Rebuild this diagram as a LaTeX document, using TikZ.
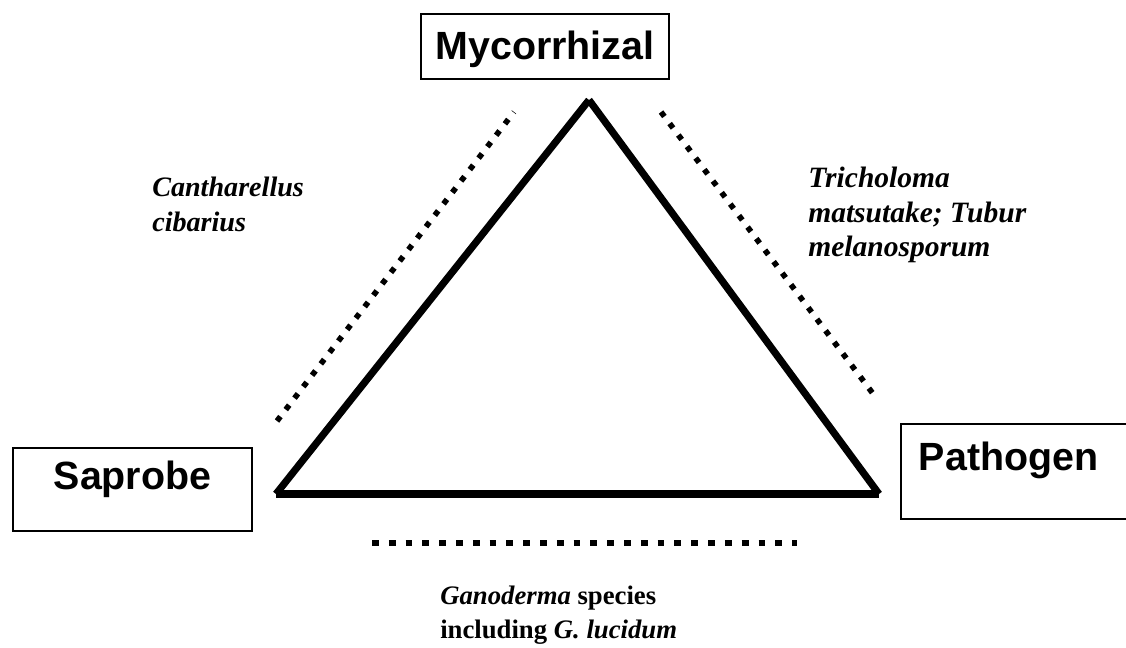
\documentclass[tikz,border=0pt]{standalone}
\usepackage{fontspec}
\setmainfont{Liberation Serif}
\setsansfont{Liberation Sans}
\usetikzlibrary{positioning}

\begin{document}
\begin{tikzpicture}[x=0.025cm, y=-0.025cm,
    box/.style={draw, line width=1.4pt, inner ysep=0pt, anchor=north west, font=\sffamily\bfseries\fontsize{28}{32}\selectfont},
    taxon/.style={align=left, inner sep=0pt, anchor=north west, font=\bfseries\fontsize{20}{24.5}\selectfont},
    side/.style={line width=0.18cm},
    dots/.style={line width=0.14cm, dash pattern=on 0.14cm off 0.22cm}]
    \useasboundingbox (0,0) rectangle (1126,647);
    % groups
    \node (myc) [box, text height=1.125cm, text depth=0.5cm, minimum width=6.2cm, inner xsep=0pt] at (420,13) {Mycorrhizal};
    \node (sap) [box, text height=1.025cm, text depth=1.05cm, minimum width=5.975cm, inner xsep=0pt] at (12,447) {Saprobe};
    \node (pat) [box, text height=1.15cm, text depth=1.225cm, text width=5.5cm, align=left, inner xsep=0.45cm] at (900,423) {Pathogen};
    % triangle
    \coordinate (apex) at (589,100);
    \coordinate (sapc) at (276,494);
    \coordinate (patc) at (879,494);
    \draw[side] (apex) -- (sapc);
    \draw[side] (apex) -- (patc);
    \draw[side] (sapc) -- (patc);
    % dotted sides
    \coordinate (ml) at (514,112);
    \coordinate (sl) at (277,421);
    \coordinate (mr) at (661,112);
    \coordinate (pr) at (877,399);
    \coordinate (sb) at (372,543);
    \coordinate (pb) at (797,543);
    \draw[dots] (sl) -- (ml);
    \draw[dots] (mr) -- (pr);
    \draw[dots, dash pattern=on 0.17cm off 0.25cm] (sb) -- (pb);
    % species
    \node (can) [taxon] at (152,177) {\textit{Cantharellus}\\\textit{cibarius}};
    \node (tri) [taxon, font=\bfseries\fontsize{21}{24.5}\selectfont] at (808,167) {\textit{Tricholoma}\\\textit{matsutake; Tubur}\\\textit{melanosporum}};
    \node (gan) [taxon, font=\bfseries\fontsize{19}{24}\selectfont] at (440,586) {\textit{Ganoderma} species\\including \textit{G. lucidum}};
\end{tikzpicture}
\end{document}
